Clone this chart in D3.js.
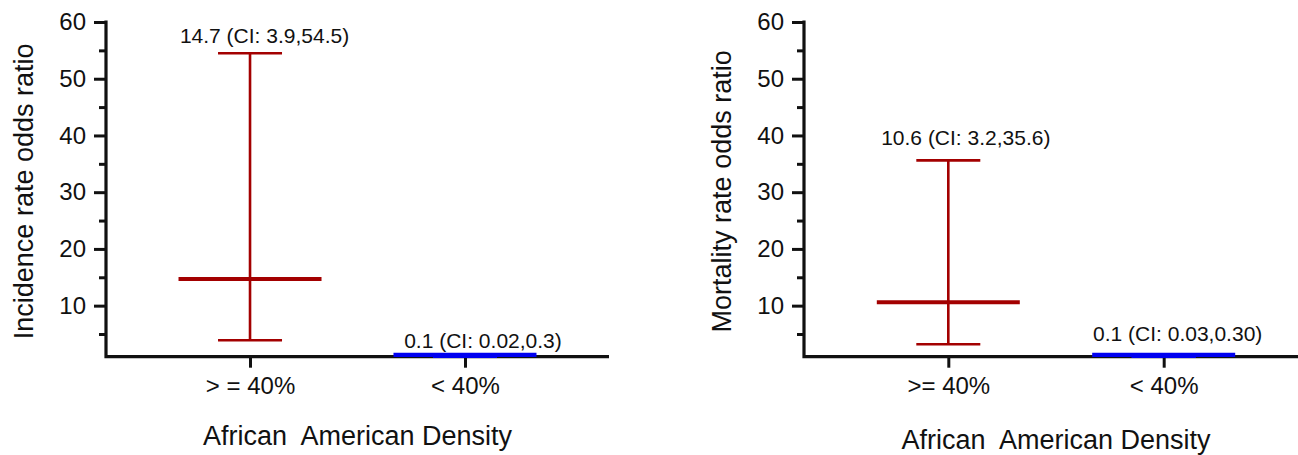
<!DOCTYPE html>
<html>
<head>
<meta charset="utf-8">
<script src="https://cdn.jsdelivr.net/npm/d3@7"></script>
<style>
  html, body { margin: 0; padding: 0; background: #fff; }
  svg { display: block; font-family: "Liberation Sans", Arial, sans-serif; }
</style>
</head>
<body>
<svg id="chart" width="1298" height="455"></svg>
<script>
// ---- data ----
const incidenceCategories = ["> = 40%", "< 40%"];
const incidenceOR = [14.7, 0.1];
const incidenceLower = [3.9, 0.02];
const incidenceUpper = [54.5, 0.3];
const incidenceLabels = ["14.7 (CI: 3.9,54.5)", "0.1 (CI: 0.02,0.3)"];

const mortalityCategories = [">= 40%", "< 40%"];
const mortalityOR = [10.6, 0.1];
const mortalityLower = [3.2, 0.03];
const mortalityUpper = [35.6, 0.30];
const mortalityLabels = ["10.6 (CI: 3.2,35.6)", "0.1 (CI: 0.03,0.30)"];

const majorTicks = [10, 20, 30, 40, 50, 60];
const minorTicks = [5, 15, 25, 35, 45, 55];
const yDomain = [1, 60];
const groupColors = ["#a30000", "#0000f0"];
const xTitle = "African  American Density";

// ---- layout ----
const svg = d3.select("#chart");
const plotTop = 22, plotBottom = 356.7;

const panels = [
  { cats: incidenceCategories, or: incidenceOR, lo: incidenceLower, hi: incidenceUpper, labels: incidenceLabels,
    yTitle: "Incidence rate odds ratio", x0: 106, x1: 609, xTitleY: 445,
    labelDx: [14.5, 18], labelDy: [-10, -9] },
  { cats: mortalityCategories, or: mortalityOR, lo: mortalityLower, hi: mortalityUpper, labels: mortalityLabels,
    yTitle: "Mortality rate odds ratio", x0: 804, x1: 1308, xTitleY: 449,
    labelDx: [17.5, 14], labelDy: [-15.7, -16] }
];

panels.forEach(p => {
  const g = svg.append("g");
  const y = d3.scaleLinear().domain(yDomain).range([plotBottom, plotTop]).clamp(true);
  const x = d3.scalePoint().domain(p.cats).range([p.x0, p.x1]).padding(0.67);

  // y axis: major ticks
  const yAxis = d3.axisLeft(y).tickValues(majorTicks).tickSize(12).tickPadding(8).tickFormat(d3.format("d"));
  const ya = g.append("g").attr("transform", `translate(${p.x0},0)`).call(yAxis);
  ya.select(".domain").remove();
  ya.selectAll(".tick line").attr("stroke", "#111").attr("stroke-width", 3);
  ya.selectAll(".tick text").attr("font-size", 24).attr("fill", "#111")
    .attr("font-family", "'Liberation Sans', Arial, sans-serif");

  // minor ticks
  const yMinor = d3.axisLeft(y).tickValues(minorTicks).tickSize(7).tickFormat("");
  const ym = g.append("g").attr("transform", `translate(${p.x0},0)`).call(yMinor);
  ym.select(".domain").remove();
  ym.selectAll(".tick line").attr("stroke", "#111").attr("stroke-width", 3);

  // x axis ticks
  const xAxis = d3.axisBottom(x).tickSize(11).tickPadding(9);
  const xa = g.append("g").attr("transform", `translate(0,${plotBottom})`).call(xAxis);
  xa.select(".domain").remove();
  xa.selectAll(".tick line").attr("stroke", "#111").attr("stroke-width", 3);
  xa.selectAll(".tick text").attr("font-size", 24).attr("fill", "#111")
    .attr("font-family", "'Liberation Sans', Arial, sans-serif");

  // axis lines
  g.append("path")
    .attr("d", `M${p.x0},${plotTop - 1.5}V${plotBottom}H${p.x1}`)
    .attr("fill", "none").attr("stroke", "#111").attr("stroke-width", 3.2)
    .attr("stroke-linejoin", "miter");

  // axis titles
  g.append("text")
    .attr("transform", `translate(${p.x0 - 73},${(plotTop + plotBottom) / 2 + 2}) rotate(-90)`)
    .attr("text-anchor", "middle").attr("font-size", 27).attr("fill", "#111")
    .text(p.yTitle);
  g.append("text")
    .attr("x", (p.x0 + p.x1) / 2).attr("y", p.xTitleY)
    .attr("text-anchor", "middle").attr("font-size", 27).attr("fill", "#111")
    .style("white-space", "pre")
    .attr("xml:space", "preserve")
    .text(xTitle);

  // error bars
  p.cats.forEach((c, i) => {
    const cx = x(c);
    const col = groupColors[i];
    const eb = g.append("g");
    eb.append("line").attr("x1", cx).attr("x2", cx).attr("y1", y(p.lo[i])).attr("y2", y(p.hi[i]))
      .attr("stroke", col).attr("stroke-width", 2.6);
    [p.lo[i], p.hi[i]].forEach(v => {
      eb.append("line").attr("x1", cx - 32).attr("x2", cx + 32).attr("y1", y(v)).attr("y2", y(v))
        .attr("stroke", col).attr("stroke-width", 2.6);
    });
    const meanShift = p.or[i] < yDomain[0] ? -1.8 : 0;
    eb.append("line").attr("x1", cx - 71.5).attr("x2", cx + 71.5)
      .attr("y1", y(p.or[i]) + meanShift)
      .attr("y2", y(p.or[i]) + meanShift)
      .attr("stroke", col).attr("stroke-width", 4.2);
    g.append("text")
      .attr("x", cx + p.labelDx[i]).attr("y", y(p.hi[i]) + p.labelDy[i])
      .attr("text-anchor", "middle").attr("font-size", 21).attr("fill", "#111")
      .text(p.labels[i]);
  });
});
</script>
</body>
</html>
